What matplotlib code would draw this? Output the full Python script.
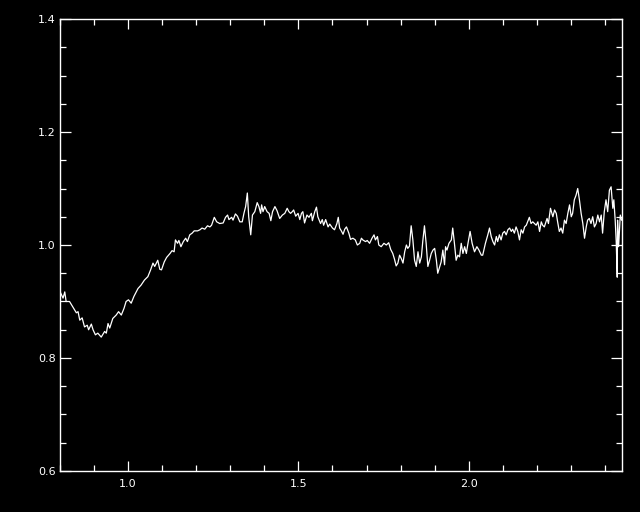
import matplotlib
matplotlib.use("Agg")
import matplotlib.pyplot as plt
from matplotlib.ticker import MultipleLocator, FixedLocator

wavelength = [
    0.802, 0.809, 0.814, 0.818, 0.828, 0.838, 0.848, 0.853, 0.858, 0.865,
    0.872, 0.880, 0.884, 0.892, 0.897, 0.904, 0.911, 0.921, 0.931, 0.936,
    0.941, 0.946, 0.955, 0.965, 0.972, 0.980, 0.988, 0.994, 1.001, 1.009,
    1.017, 1.029, 1.038, 1.048, 1.058, 1.066, 1.073, 1.078, 1.087, 1.093,
    1.098, 1.106, 1.113, 1.123, 1.129, 1.135, 1.139, 1.145, 1.149, 1.155,
    1.162, 1.169, 1.174, 1.181, 1.188, 1.194, 1.204, 1.211, 1.217, 1.225,
    1.233, 1.240, 1.245, 1.253, 1.260, 1.269, 1.279, 1.286, 1.292, 1.296,
    1.304, 1.308, 1.315, 1.321, 1.328, 1.335, 1.340, 1.345, 1.350, 1.354,
    1.360, 1.365, 1.372, 1.379, 1.384, 1.389, 1.392, 1.396, 1.401, 1.408,
    1.414, 1.419, 1.424, 1.431, 1.437, 1.445, 1.453, 1.460, 1.467, 1.472,
    1.477, 1.482, 1.486, 1.492, 1.499, 1.504, 1.509, 1.513, 1.518, 1.525,
    1.531, 1.538, 1.541, 1.548, 1.553, 1.557, 1.565, 1.570, 1.574, 1.580,
    1.587, 1.592, 1.600, 1.606, 1.613, 1.617, 1.621, 1.626, 1.631, 1.636,
    1.641, 1.648, 1.653, 1.660, 1.667, 1.673, 1.680, 1.685, 1.689, 1.697,
    1.702, 1.709, 1.716, 1.722, 1.726, 1.732, 1.736, 1.743, 1.751, 1.758,
    1.765, 1.771, 1.777, 1.782, 1.787, 1.792, 1.797, 1.802, 1.807, 1.812,
    1.817, 1.821, 1.826, 1.831, 1.836, 1.841, 1.846, 1.851, 1.856, 1.861,
    1.865, 1.870, 1.875, 1.880, 1.885, 1.890, 1.895, 1.900, 1.905, 1.909,
    1.919, 1.924, 1.929, 1.932, 1.936, 1.942, 1.949, 1.953, 1.958, 1.963,
    1.968, 1.973, 1.978, 1.983, 1.988, 1.993, 1.997, 2.004, 2.010, 2.017,
    2.024, 2.030, 2.037, 2.041, 2.049, 2.056, 2.061, 2.066, 2.071, 2.076,
    2.081, 2.085, 2.090, 2.095, 2.100, 2.105, 2.110, 2.115, 2.120, 2.125,
    2.129, 2.134, 2.139, 2.144, 2.149, 2.154, 2.159, 2.164, 2.169, 2.173,
    2.178, 2.183, 2.188, 2.198, 2.203, 2.208, 2.213, 2.217, 2.222, 2.230,
    2.234, 2.240, 2.247, 2.252, 2.257, 2.261, 2.266, 2.271, 2.276, 2.281,
    2.286, 2.291, 2.296, 2.301, 2.305, 2.310, 2.315, 2.320, 2.325, 2.330,
    2.335, 2.340, 2.345, 2.349, 2.354, 2.359, 2.364, 2.369, 2.374, 2.379,
    2.384, 2.389, 2.393, 2.398, 2.403, 2.408, 2.413, 2.418, 2.423, 2.426,
    2.430, 2.433, 2.436, 2.437, 2.440, 2.445, 2.449,
]

flux = [
    0.915, 0.906, 0.917, 0.900, 0.900, 0.890, 0.880, 0.882, 0.867, 0.871,
    0.855, 0.858, 0.850, 0.860, 0.850, 0.841, 0.844, 0.837, 0.847, 0.844,
    0.861, 0.853, 0.870, 0.876, 0.882, 0.876, 0.888, 0.900, 0.903, 0.897,
    0.909, 0.923, 0.929, 0.938, 0.944, 0.956, 0.968, 0.962, 0.973, 0.957,
    0.956, 0.970, 0.978, 0.985, 0.990, 0.988, 1.009, 1.003, 1.008, 0.997,
    1.006, 1.012, 1.006, 1.018, 1.021, 1.025, 1.025, 1.027, 1.030, 1.028,
    1.034, 1.032, 1.035, 1.049, 1.041, 1.038, 1.039, 1.049, 1.053, 1.045,
    1.049, 1.044, 1.055, 1.051, 1.041, 1.041, 1.056, 1.068, 1.092, 1.050,
    1.018, 1.053, 1.059, 1.075, 1.068, 1.056, 1.071, 1.059, 1.068, 1.059,
    1.056, 1.043, 1.059, 1.068, 1.061, 1.047, 1.053, 1.056, 1.065, 1.059,
    1.056, 1.059, 1.062, 1.051, 1.056, 1.045, 1.056, 1.059, 1.039, 1.053,
    1.049, 1.056, 1.043, 1.059, 1.067, 1.050, 1.038, 1.045, 1.035, 1.045,
    1.032, 1.037, 1.030, 1.027, 1.038, 1.049, 1.030, 1.025, 1.019, 1.028,
    1.032, 1.021, 1.010, 1.012, 1.009, 1.000, 1.003, 1.012, 1.009, 1.006,
    1.008, 1.003, 1.012, 1.018, 1.009, 1.015, 1.000, 0.997, 1.003, 1.000,
    1.004, 0.992, 0.985, 0.975, 0.963, 0.968, 0.982, 0.976, 0.968, 0.988,
    1.000, 0.994, 0.998, 1.034, 1.009, 0.973, 0.962, 0.988, 0.968, 0.979,
    1.006, 1.034, 1.003, 0.962, 0.973, 0.985, 0.991, 0.994, 0.973, 0.950,
    0.970, 0.991, 0.965, 0.997, 0.991, 1.003, 1.009, 1.030, 1.003, 0.973,
    0.982, 0.979, 1.003, 0.985, 0.997, 0.985, 1.000, 1.024, 1.003, 0.988,
    0.997, 0.991, 0.982, 0.982, 1.003, 1.018, 1.030, 1.015, 1.006, 1.000,
    1.015, 1.006, 1.018, 1.009, 1.021, 1.024, 1.018, 1.027, 1.030, 1.024,
    1.028, 1.021, 1.032, 1.024, 1.009, 1.027, 1.021, 1.032, 1.035, 1.041,
    1.049, 1.038, 1.041, 1.035, 1.041, 1.024, 1.041, 1.035, 1.032, 1.047,
    1.038, 1.065, 1.050, 1.062, 1.056, 1.041, 1.024, 1.030, 1.021, 1.044,
    1.038, 1.056, 1.071, 1.050, 1.056, 1.080, 1.088, 1.100, 1.080, 1.056,
    1.038, 1.012, 1.032, 1.044, 1.047, 1.038, 1.050, 1.032, 1.038, 1.053,
    1.041, 1.053, 1.021, 1.059, 1.080, 1.059, 1.097, 1.103, 1.065, 1.080,
    1.044, 1.006, 0.943, 1.044, 0.997, 1.053, 1.044,
]

x_range = (0.8, 2.45)
y_range = (0.6, 1.4)
x_major = [1.0, 1.5, 2.0]
x_labels = ["1.0", "1.5", "2.0"]
y_major = [0.6, 0.8, 1.0, 1.2, 1.4]
y_labels = ["0.6", "0.8", "1.0", "1.2", "1.4"]

fig = plt.figure(figsize=(6.4, 5.12), dpi=100, facecolor="black")
ax = fig.add_axes([60 / 640, 41 / 512, 562 / 640, 452 / 512])
ax.set_facecolor("black")

ax.plot(wavelength, flux, color="white", linewidth=0.9)

ax.set_xlim(*x_range)
ax.set_ylim(*y_range)

ax.xaxis.set_major_locator(FixedLocator(x_major))
ax.set_xticklabels(x_labels)
ax.xaxis.set_minor_locator(MultipleLocator(0.1))
ax.yaxis.set_major_locator(FixedLocator(y_major))
ax.set_yticklabels(y_labels)
ax.yaxis.set_minor_locator(MultipleLocator(0.05))

for s in ax.spines.values():
    s.set_color("white")
    s.set_linewidth(1.0)

ax.tick_params(axis="both", which="both", direction="in", colors="white",
               top=True, right=True, labelsize=8, width=0.9)
ax.tick_params(axis="x", which="major", length=7, pad=6)
ax.tick_params(axis="x", which="minor", length=4)
ax.tick_params(axis="y", which="major", length=8, pad=3)
ax.tick_params(axis="y", which="minor", length=4.5)

fig.savefig("out.png", dpi=100, facecolor="black")
